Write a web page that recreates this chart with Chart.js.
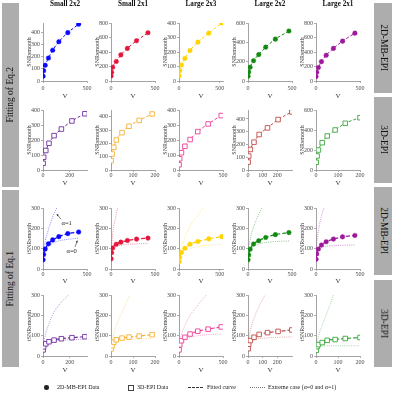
<!DOCTYPE html>
<html>
<head>
<meta charset="utf-8">
<script src="https://cdn.jsdelivr.net/npm/chart.js@4.4.1/dist/chart.umd.min.js"></script>
<style>
  body { margin: 0; background: #fff; width: 396px; height: 400px; overflow: hidden; position: relative;
         font-family: 'Liberation Serif', 'Times New Roman', serif; color: #111; }
  canvas { position: absolute; }
  .bar { position: absolute; background: #adadad; }
  .vtxt { position: absolute; white-space: nowrap; font-size: 9.5px; line-height: 1; }
  .ctitle { position: absolute; font-weight: bold; font-size: 7.2px; white-space: nowrap; transform: translateX(-50%); }
  .leg { position: absolute; font-size: 6px; white-space: nowrap; color: #222; line-height: 1; }
</style>
</head>
<body>
<script>
const FONT = "'Liberation Serif', 'Times New Roman', serif";

const columns = ['Small 2x2', 'Small 2x1', 'Large 2x3', 'Large 2x2', 'Large 2x1'];
const seqLabels = ['2D-MB-EPI', '3D-EPI', '2D-MB-EPI', '3D-EPI'];
const fitLabels = ['Fitting of Eq.2', 'Fitting of Eq.1'];
const legendLabels = ['2D-MB-EPI Data', '3D-EPI Data', 'Fitted curve', 'Extreme case  (\u03b1=0 and \u03b1=1)'];

const colorsMB = ['#0a0aff', '#e3173e', '#ffd400', '#128a12', '#9e189c'];
const colors3D = ['#7030a0', '#f8b133', '#ee3f98', '#c04c4a', '#3aa83a'];

// voxel volume V
const vMB = [
  [1, 7, 25, 62, 110, 180, 282, 405],
  [1, 7, 19, 60, 112, 186, 290, 420],
  [2, 8, 30, 72, 135, 232, 365, 525],
  [1, 8, 24, 63, 122, 201, 311, 465],
  [1, 8, 27, 62, 116, 198, 302, 442]
];
const v3D = [
  [1, 5, 21, 45, 83, 138, 217, 314],
  [1, 5, 13, 24, 50, 82, 128, 187],
  [1, 8, 28, 67, 126, 213, 331, 480],
  [1, 5, 16, 41, 76, 133, 205, 299],
  [1, 5, 11, 28, 51, 87, 133, 200]
];

// SNR (Eq.2 rows)
const snrMB = [
  [40, 85, 130, 190, 255, 325, 400, 470],
  [70, 120, 190, 270, 360, 450, 555, 665],
  [35, 70, 110, 155, 210, 268, 330, 400],
  [50, 93, 143, 210, 273, 350, 433, 517],
  [62, 120, 187, 267, 356, 450, 550, 660]
];
const snr3D = [
  [45, 85, 130, 178, 229, 273, 327, 375],
  [70, 120, 170, 225, 280, 328, 372, 420],
  [35, 75, 115, 158, 203, 256, 307, 363],
  [62, 109, 161, 218, 278, 330, 395, 455],
  [77, 140, 200, 273, 340, 400, 467, 523]
];

// tSNR (Eq.1 rows)
const tsnrMB = [
  [45, 71, 98, 124, 143, 159, 174, 182],
  [50, 80, 103, 122, 132, 140, 147, 152],
  [37, 58, 81, 102, 122, 135, 148, 159],
  [45, 69, 97, 123, 139, 155, 169, 179],
  [48, 74, 98, 118, 134, 147, 158, 165]
];
const tsnr3D = [
  [30, 45, 60, 70, 78, 85, 90, 95],
  [35, 50, 68, 80, 88, 93, 98, 105],
  [30, 55, 75, 92, 108, 122, 132, 143],
  [36, 58, 76, 92, 106, 115, 121, 128],
  [28, 46, 56, 66, 77, 81, 86, 91]
];

// extreme cases
const alpha0MB = [
  [40, 65, 90, 112, 127, 138, 146, 152],
  [48, 75, 95, 110, 117, 121, 124, 126],
  [34, 54, 72, 88, 100, 110, 117, 122],
  [42, 65, 90, 110, 122, 130, 135, 138],
  [45, 70, 90, 105, 112, 115, 117, 118]
];
const alpha1MB = [
  [45, 85, 135, 195, 255, 320, 400, 480],
  [50, 110, 170, 270, 360, 460, 560, 670],
  [37, 70, 110, 155, 210, 265, 330, 400],
  [45, 93, 143, 205, 270, 335, 420, 510],
  [48, 120, 187, 260, 330, 440, 550, 660]
];
const alpha03D = [
  [28, 42, 55, 65, 72, 77, 80, 82],
  [33, 48, 63, 74, 80, 82, 84, 86],
  [28, 50, 68, 82, 92, 100, 105, 108],
  [34, 54, 68, 78, 85, 89, 92, 94],
  [26, 40, 46, 49, 50, 50, 50, 50]
];
const alpha13D = [
  [30, 60, 110, 160, 215, 265, 315, 380],
  [35, 70, 110, 150, 215, 290, 370, 450],
  [30, 65, 105, 150, 200, 250, 310, 380],
  [36, 75, 125, 185, 245, 320, 400, 480],
  [28, 60, 95, 150, 215, 320, 420, 520]
];

// axis limits and tick labels
const xMaxMB = [500, 500, 540, 500, 500];
const xMax3D = [330, 200, 500, 300, 200];
const xTicksMB = [[0, 500], [0, 500], [0, 500], [0, 500], [0, 500]];
const xTicks3D = [[0, 200], [0, 100, 200], [0, 500], [0, 100, 200], [0, 100, 200]];
const yMaxSnrMB = [480, 800, 400, 600, 800];
const yTicksSnrMB = [[0, 100, 200, 300, 400], [0, 200, 400, 600, 800], [0, 100, 200, 300, 400], [0, 200, 400, 600], [0, 200, 400, 600, 800]];
const yMaxSnr3D = [400, 450, 400, 470, 600];
const yTicksSnr3D = [[0, 100, 200, 300, 400], [0, 100, 200, 300, 400], [0, 100, 200, 300, 400], [0, 100, 200, 300, 400], [0, 200, 400, 600]];
const yMaxTsnr = [300, 300, 300, 300, 300];
const yTicksTsnr = [[0, 100, 200, 300], [0, 100, 200, 300], [0, 100, 200, 300], [0, 100, 200, 300], [0, 100, 200, 300]];

// alpha annotations in the first Eq.1 panel (data coordinates)
const annoText = ['\u03b1=1', '\u03b1=0'];
const annoAt = [[269, 226], [326, 85]];
const annoFrom = [[205, 245], [364, 108]];
const annoTo = [[156, 270], [390, 140]];

const rowCfg = [
  { v: vMB, y: snrMB, colors: colorsMB, marker: 'circle', xMax: xMaxMB, xTicks: xTicksMB, yMax: yMaxSnrMB, yTicks: yTicksSnrMB, title: 'SNRsmooth' },
  { v: v3D, y: snr3D, colors: colors3D, marker: 'rect', xMax: xMax3D, xTicks: xTicks3D, yMax: yMaxSnr3D, yTicks: yTicksSnr3D, title: 'SNRsmooth' },
  { v: vMB, y: tsnrMB, a0: alpha0MB, a1: alpha1MB, colors: colorsMB, marker: 'circle', xMax: xMaxMB, xTicks: xTicksMB, yMax: yMaxTsnr, yTicks: yTicksTsnr, title: 'tSNRsmooth' },
  { v: v3D, y: tsnr3D, a0: alpha03D, a1: alpha13D, colors: colors3D, marker: 'rect', xMax: xMax3D, xTicks: xTicks3D, yMax: yMaxTsnr, yTicks: yTicksTsnr, title: 'tSNRsmooth' }
];

// layout
const colX = [43, 111, 179, 248, 316];
const rowTop = [23, 110, 208, 295];
const rowH = [58, 60, 61, 61];
const xBoxH = [20, 18, 17, 19];
const xTickPad = [1.5, 0, 0, 0.5];
const PW = 44, YW = 17, PT = 6, PR = 9;
const AXIS = '#8c8c8c', TICK = '#4a4a4a';

function hexA(hex, a) {
  const n = parseInt(hex.slice(1), 16);
  return `rgba(${n >> 16},${(n >> 8) & 255},${n & 255},${a})`;
}

const annoPlugin = {
  id: 'anno',
  afterDatasetsDraw(chart) {
    const { ctx, scales: { x, y } } = chart;
    ctx.save();
    ctx.fillStyle = '#222';
    ctx.strokeStyle = '#333';
    ctx.lineWidth = 0.6;
    ctx.font = `6.5px ${FONT}`;
    ctx.textAlign = 'center';
    ctx.textBaseline = 'middle';
    annoText.forEach((t, i) => {
      ctx.fillText(t, x.getPixelForValue(annoAt[i][0]), y.getPixelForValue(annoAt[i][1]));
      const fx = x.getPixelForValue(annoFrom[i][0]), fy = y.getPixelForValue(annoFrom[i][1]);
      const tx = x.getPixelForValue(annoTo[i][0]), ty = y.getPixelForValue(annoTo[i][1]);
      ctx.beginPath(); ctx.moveTo(fx, fy); ctx.lineTo(tx, ty); ctx.stroke();
      const ang = Math.atan2(ty - fy, tx - fx);
      ctx.beginPath();
      ctx.moveTo(tx, ty);
      ctx.lineTo(tx - 2.2 * Math.cos(ang - 0.45), ty - 2.2 * Math.sin(ang - 0.45));
      ctx.lineTo(tx - 2.2 * Math.cos(ang + 0.45), ty - 2.2 * Math.sin(ang + 0.45));
      ctx.closePath(); ctx.fill();
    });
    ctx.restore();
  }
};

function buildPanel(r, c) {
  const cfg = rowCfg[r];
  const ph = rowH[r], xh = xBoxH[r];
  const W = YW + PW + PR, H = PT + ph + xh;
  const cv = document.createElement('canvas');
  cv.width = W; cv.height = H;
  cv.style.width = W + 'px'; cv.style.height = H + 'px';
  cv.style.left = (colX[c] - YW) + 'px';
  cv.style.top = (rowTop[r] - PT) + 'px';
  document.body.appendChild(cv);

  const V = cfg.v[c];
  const pts = arr => arr.map((val, i) => ({ x: V[i], y: val }));
  const col = cfg.colors[c];
  const isRect = cfg.marker === 'rect';
  const eq1 = !!cfg.a0;

  const datasets = [{
    data: pts(cfg.y[c]),
    showLine: true,
    borderColor: col,
    borderWidth: eq1 ? 1.2 : 1,
    borderDash: eq1 ? [4, 2] : [3, 2],
    cubicInterpolationMode: 'monotone',
    pointStyle: cfg.marker,
    pointRadius: isRect ? 3.2 : 2.3,
    pointBackgroundColor: isRect ? '#fff' : col,
    pointBorderColor: col,
    pointBorderWidth: isRect ? 0.9 : 0.4
  }];
  if (eq1) {
    [cfg.a0[c], cfg.a1[c]].forEach(arr => datasets.push({
      data: pts(arr),
      showLine: true,
      borderColor: hexA(col, 0.6),
      borderWidth: 0.8,
      borderDash: [1, 1.2],
      cubicInterpolationMode: 'monotone',
      pointRadius: 0,
      clip: 0
    }));
  }

  const tickFont = { family: FONT, size: 6 };
  new Chart(cv, {
    type: 'scatter',
    data: { datasets },
    plugins: (r === 2 && c === 0) ? [annoPlugin] : [],
    options: {
      responsive: false,
      animation: false,
      devicePixelRatio: 1,
      layout: { padding: { left: 0, top: PT, right: PR, bottom: 0 } },
      plugins: { legend: { display: false }, tooltip: { enabled: false } },
      scales: {
        x: {
          type: 'linear', min: 0, max: cfg.xMax[c],
          afterBuildTicks: s => { s.ticks = cfg.xTicks[c].map(v => ({ value: v })); },
          afterFit: s => { s.height = xh; },
          grid: { drawOnChartArea: false, drawTicks: true, tickLength: 2, color: AXIS, lineWidth: 0.7 },
          border: { color: AXIS, width: 0.8 },
          ticks: { font: tickFont, color: TICK, padding: xTickPad[r], maxRotation: 0, autoSkip: false },
          title: { display: true, text: 'V', font: { family: FONT, size: 7 }, color: '#333', padding: { top: 0, bottom: 1 } }
        },
        y: {
          type: 'linear', min: 0, max: cfg.yMax[c],
          afterBuildTicks: s => { s.ticks = cfg.yTicks[c].map(v => ({ value: v })); },
          afterFit: s => { s.width = YW; },
          grid: { drawOnChartArea: false, drawTicks: true, tickLength: 2, color: AXIS, lineWidth: 0.7 },
          border: { color: AXIS, width: 0.8 },
          ticks: { font: tickFont, color: TICK, padding: 1, autoSkip: false },
          title: { display: true, text: cfg.title, font: { family: FONT, size: 6 }, color: '#333', padding: { top: 0, bottom: 0 } }
        }
      }
    }
  });
}

for (let r = 0; r < 4; r++) for (let c = 0; c < 5; c++) buildPanel(r, c);

// column titles
columns.forEach((t, c) => {
  const d = document.createElement('div');
  d.className = 'ctitle';
  d.textContent = t;
  d.style.left = (colX[c] + PW / 2) + 'px';
  d.style.top = '0px';
  document.body.appendChild(d);
});

// side bars with rotated labels
function sideBar(x, y, w, h, text, flip) {
  const b = document.createElement('div');
  b.className = 'bar';
  Object.assign(b.style, { left: x + 'px', top: y + 'px', width: w + 'px', height: h + 'px' });
  document.body.appendChild(b);
  const t = document.createElement('div');
  t.className = 'vtxt';
  t.textContent = text;
  document.body.appendChild(t);
  const tw = t.offsetWidth, th = t.offsetHeight;
  const cx = x + w / 2, cy = y + h / 2;
  Object.assign(t.style, {
    left: (cx - tw / 2) + 'px', top: (cy - th / 2) + 'px',
    transform: `rotate(${flip ? -90 : 90}deg)`
  });
}
sideBar(2, 3, 17, 184, fitLabels[0], true);
sideBar(2, 190, 17, 177, fitLabels[1], true);
const rightSeg = [[3, 90], [97, 86], [187, 88], [280, 87]];
rightSeg.forEach((s, i) => sideBar(374, s[0], 18, s[1], seqLabels[i], false));

// legend
function legText(x, text) {
  const d = document.createElement('div');
  d.className = 'leg';
  d.textContent = text;
  document.body.appendChild(d);
  d.style.left = x + 'px';
  d.style.top = (387 - d.offsetHeight / 2) + 'px';
}
function legBox(style) {
  const d = document.createElement('div');
  d.style.position = 'absolute';
  Object.assign(d.style, style);
  document.body.appendChild(d);
}
legBox({ left: '44px', top: '385px', width: '4.5px', height: '4.5px', borderRadius: '50%', background: '#222' });
legText(57, legendLabels[0]);
legBox({ left: '128px', top: '385px', width: '3.5px', height: '3.5px', border: '0.8px solid #444' });
legText(137, legendLabels[1]);
legBox({ left: '188px', top: '386.5px', width: '15px', height: '0', borderTop: '1px dashed #333' });
legText(207, legendLabels[2]);
legBox({ left: '250px', top: '386.5px', width: '15px', height: '0', borderTop: '1px dotted #777' });
legText(268, legendLabels[3]);
</script>
</body>
</html>
